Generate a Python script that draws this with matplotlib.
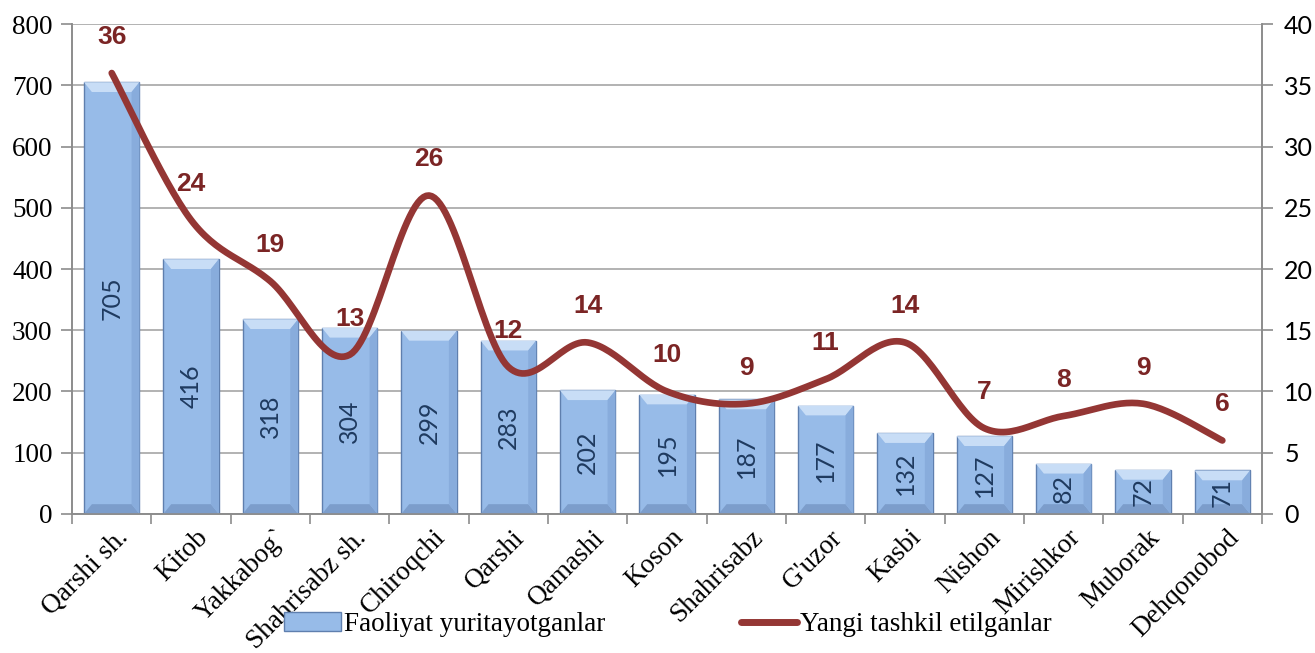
import numpy as np
import matplotlib
matplotlib.use("Agg")
import matplotlib.pyplot as plt
import matplotlib.transforms as mtransforms
from matplotlib.patches import Polygon, Patch
from matplotlib.lines import Line2D

# ---------- Data ----------
districts = ["Qarshi sh.", "Kitob", "Yakkabog`", "Shahrisabz sh.", "Chiroqchi",
             "Qarshi", "Qamashi", "Koson", "Shahrisabz", "G'uzor", "Kasbi",
             "Nishon", "Mirishkor", "Muborak", "Dehqonobod"]
active = [705, 416, 318, 304, 299, 283, 202, 195, 187, 177, 132, 127, 82, 72, 71]
new_created = [36, 24, 19, 13, 26, 12, 14, 10, 9, 11, 14, 7, 8, 9, 6]

BAR_LABEL = "Faoliyat yuritayotganlar"
LINE_LABEL = "Yangi tashkil etilganlar"

# ---------- Style ----------
SERIF = "Liberation Serif"
SANS = "Lato"
BAR_FACE = "#97BBE8"
BAR_EDGE = "#5F7FAE"
BEVEL_TOP = "#C8DDF6"
BEVEL_BOT = "#7C9DCB"
BEVEL_SIDE = "#88ACDC"
LINE_COLOR = "#943634"
LABEL_RED = "#7B2525"
GRID = "#A6A6A6"
AXIS = "#8C8C8C"


def smooth_curve(xs, ys, steps=30):
    # Catmull-Rom through the points (Excel-like "smoothed line")
    px = np.concatenate([[xs[0]], xs, [xs[-1]]]).astype(float)
    py = np.concatenate([[ys[0]], ys, [ys[-1]]]).astype(float)
    out_x, out_y = [], []
    t = np.linspace(0, 1, steps)
    for i in range(1, len(px) - 2):
        p0, p1, p2, p3 = (np.array([px[j], py[j]]) for j in (i - 1, i, i + 1, i + 2))
        c1 = p1 + (p2 - p0) / 6
        c2 = p2 - (p3 - p1) / 6
        b = (((1 - t) ** 3)[:, None] * p1 + (3 * (1 - t) ** 2 * t)[:, None] * c1
             + (3 * (1 - t) * t ** 2)[:, None] * c2 + (t ** 3)[:, None] * p2)
        out_x.extend(b[:, 0]); out_y.extend(b[:, 1])
    return np.array(out_x), np.array(out_y)


fig = plt.figure(figsize=(13.15, 6.53), dpi=100)
ax = fig.add_axes([0.0548, 0.2129, 0.9049, 0.7503])
ax2 = ax.twinx()

x = np.arange(len(districts))
width = 0.7
ax.bar(x, active, width=width, color=BAR_FACE, edgecolor=BAR_EDGE, linewidth=1.0, zorder=2)

# bevel look on each bar
bx, by = 0.1, 16
for xi, v in zip(x, active):
    l, r = xi - width / 2, xi + width / 2
    ax.add_patch(Polygon([[l, v], [r, v], [r - bx, v - by], [l + bx, v - by]],
                         closed=True, facecolor=BEVEL_TOP, edgecolor="none", zorder=3))
    ax.add_patch(Polygon([[l, 0], [r, 0], [r - bx, by], [l + bx, by]],
                         closed=True, facecolor=BEVEL_BOT, edgecolor="none", zorder=3))
    ax.add_patch(Polygon([[r, 0], [r, v], [r - bx, v - by], [r - bx, by]],
                         closed=True, facecolor=BEVEL_SIDE, edgecolor="none", zorder=3))
    ax.text(xi, v / 2, str(v), rotation=90, ha="center", va="center",
            fontsize=18, family=SANS, color="#1F3A5F", zorder=4)

ax.set_ylim(0, 800)
ax.set_yticks(range(0, 801, 100))
ax.set_xlim(-0.5, len(districts) - 0.5)
ax.yaxis.grid(True, color=GRID, linewidth=1.2, zorder=0)
ax.set_axisbelow(True)

ax.set_xticks(x)
ax.set_xticklabels(districts, rotation=45, ha="right", va="top",
                   rotation_mode="anchor", fontsize=19.5, family=SERIF)
ax.set_xticks(np.arange(-0.5, len(districts)), minor=True)
ax.tick_params(axis="x", which="major", length=0, pad=8)
ax.tick_params(axis="x", which="minor", length=7, color=AXIS, width=1.2)
offset = mtransforms.ScaledTranslation(4 / 100, 0, fig.dpi_scale_trans)
for lab in ax.get_xticklabels():
    lab.set_transform(lab.get_transform() + offset)

ax.tick_params(axis="y", length=8, color=AXIS, width=1.2, labelsize=19.5, pad=6)
for lab in ax.get_yticklabels():
    lab.set_family(SERIF)

# line on secondary axis
sx, sy = smooth_curve(x, new_created)
ax2.plot(sx, sy, color=LINE_COLOR, linewidth=4.8, solid_capstyle="round", zorder=5)
for xi, v in zip(x, new_created):
    ax2.annotate(str(v), (xi, v), xytext=(0, 26), textcoords="offset points",
                 ha="center", va="center", fontsize=19, fontweight="bold",
                 family="Liberation Sans", color=LABEL_RED)
ax2.set_ylim(0, 40)
ax2.set_yticks(range(0, 41, 5))
ax2.tick_params(axis="y", length=8, color=AXIS, width=1.2, labelsize=18, pad=8)
for lab in ax2.get_yticklabels():
    lab.set_family(SANS)

for a in (ax, ax2):
    a.spines["top"].set_visible(False)
    for s in ("left", "right", "bottom"):
        a.spines[s].set_color(AXIS)
        a.spines[s].set_linewidth(1.2)

handles = [Patch(facecolor=BAR_FACE, edgecolor=BAR_EDGE, label=BAR_LABEL),
           Line2D([0], [0], color=LINE_COLOR, linewidth=5, solid_capstyle="round", label=LINE_LABEL)]
fig.legend(handles=handles, loc="center", bbox_to_anchor=(0.508, 0.043), ncol=2,
           frameon=False, prop={"family": SERIF, "size": 19.5}, handlelength=2.1,
           handletextpad=0.1, columnspacing=5.0)

fig.savefig("out.png", dpi=100)
